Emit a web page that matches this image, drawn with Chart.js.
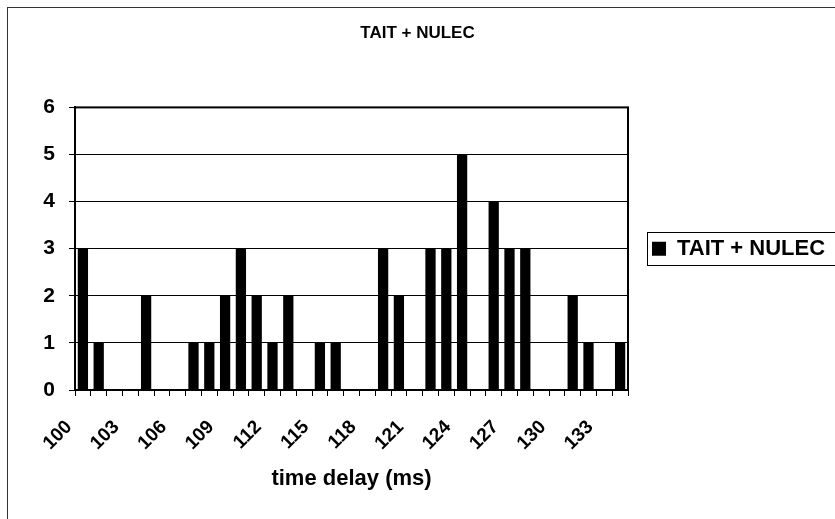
<!DOCTYPE html>
<html>
<head>
<meta charset="utf-8">
<title>TAIT + NULEC</title>
<script src="https://cdn.jsdelivr.net/npm/chart.js@4.4.0/dist/chart.umd.min.js"></script>
<style>
  html, body { margin: 0; padding: 0; background: #fff; }
  #wrap { width: 835px; height: 519px; }
</style>
</head>
<body>
<div id="wrap"><canvas id="delayChart" width="835" height="519"></canvas></div>
<script>
// --- data ---
const delays = ['100', '101', '102', '103', '104', '105', '106', '107', '108', '109',
  '110', '111', '112', '113', '114', '115', '116', '117', '118', '119',
  '120', '121', '122', '123', '124', '125', '126', '127', '128', '129',
  '130', '131', '132', '133', '134'];
const counts = [3, 1, 0, 0, 2, 0, 0, 1, 1, 2,
  3, 2, 1, 2, 0, 1, 1, 0, 0, 3,
  2, 0, 3, 3, 5, 0, 4, 3, 3, 0,
  0, 2, 1, 0, 1];
const xTickLabels = ['100', '103', '106', '109', '112', '115', '118', '121', '124', '127', '130', '133'];
const yMax = 6;
const seriesName = 'TAIT + NULEC';

// plot box (px) so the layout lines up with the scan
const PLOT_LEFT = 75;
const PLOT_RIGHT = 628;
const PLOT_BOTTOM = 390;
const LEGEND_GAP = 24;
const FONT = 'Arial, "Liberation Sans", Helvetica, sans-serif';

// outer chart frame + plot border + box round the legend
const frames = {
  id: 'frames',
  beforeLayout(chart) {
    const lg = chart.legend;
    if (lg && !lg._patched) {
      const baseFit = lg.fit;
      lg.fit = function () {
        baseFit.call(this);
        if (!this.isHorizontal()) this.width = chart.width - PLOT_RIGHT;
      };
      lg._patched = true;
    }
  },
  afterLayout(chart) {
    // push the legend away from the plot, like Excel does
    const lg = chart.legend;
    if (lg) { lg.left += LEGEND_GAP; lg.right += LEGEND_GAP; }
  },
  beforeDraw(chart) {
    const ctx = chart.ctx;
    ctx.save();
    ctx.fillStyle = '#fff';
    ctx.fillRect(0, 0, chart.width, chart.height);
    ctx.strokeStyle = '#333';
    ctx.lineWidth = 1;
    ctx.strokeRect(7.5, 7.5, chart.width + 20, chart.height + 20);
    ctx.restore();
  },
  afterDraw(chart) {
    const ctx = chart.ctx;
    const a = chart.chartArea;
    ctx.save();
    ctx.strokeStyle = '#000';
    ctx.lineWidth = 2;
    ctx.strokeRect(a.left, a.top, a.right - a.left, a.bottom - a.top);
    const hb = chart.legend && chart.legend.legendHitBoxes[0];
    if (hb) {
      const mid = hb.top + hb.height / 2;
      ctx.lineWidth = 1;
      ctx.strokeRect(Math.round(hb.left - 5) + 0.5, Math.round(mid - 17) + 0.5, chart.width, 33);
    }
    ctx.restore();
  }
};

new Chart(document.getElementById('delayChart'), {
  type: 'bar',
  data: {
    labels: delays,
    datasets: [{
      label: seriesName,
      data: counts,
      backgroundColor: '#000',
      borderWidth: 0,
      barPercentage: 0.65,
      categoryPercentage: 1
    }]
  },
  options: {
    responsive: false,
    devicePixelRatio: 1,
    animation: false,
    layout: { padding: 0 },
    plugins: {
      title: {
        display: true,
        text: seriesName,
        color: '#000',
        font: { family: FONT, size: 17, weight: 'bold' },
        padding: { top: 23, bottom: 64 }
      },
      legend: {
        position: 'right',
        fullSize: false,
        labels: {
          color: '#000',
          boxWidth: 14,
          boxHeight: 14,
          padding: 0,
          font: { family: FONT, size: 22, weight: 'bold' }
        }
      },
      tooltip: { enabled: false }
    },
    scales: {
      x: {
        grid: { display: true, drawOnChartArea: false, color: '#000', tickLength: 6, offset: true },
        border: { color: '#000', width: 2 },
        ticks: {
          autoSkip: false,
          minRotation: 45,
          maxRotation: 45,
          color: '#000',
          padding: 20,
          labelOffset: -14,
          font: { family: FONT, size: 19, weight: 'bold' },
          callback: function (v) {
            const lbl = this.getLabelForValue(v);
            return xTickLabels.includes(lbl) ? lbl : '';
          }
        },
        title: {
          display: true,
          text: 'time delay (ms)',
          color: '#000',
          font: { family: FONT, size: 22, weight: 'bold' },
          padding: { top: 0, bottom: 27 }
        },
        afterFit(scale) { scale.height = 519 - PLOT_BOTTOM; }
      },
      y: {
        min: 0,
        max: yMax,
        ticks: {
          stepSize: 1,
          color: '#000',
          padding: 14,
          font: { family: FONT, size: 21, weight: 'bold' }
        },
        grid: { color: '#000', lineWidth: 1, tickLength: 6 },
        border: { color: '#000', width: 2 },
        afterFit(scale) { scale.width = PLOT_LEFT; }
      }
    }
  },
  plugins: [frames]
});
</script>
</body>
</html>
